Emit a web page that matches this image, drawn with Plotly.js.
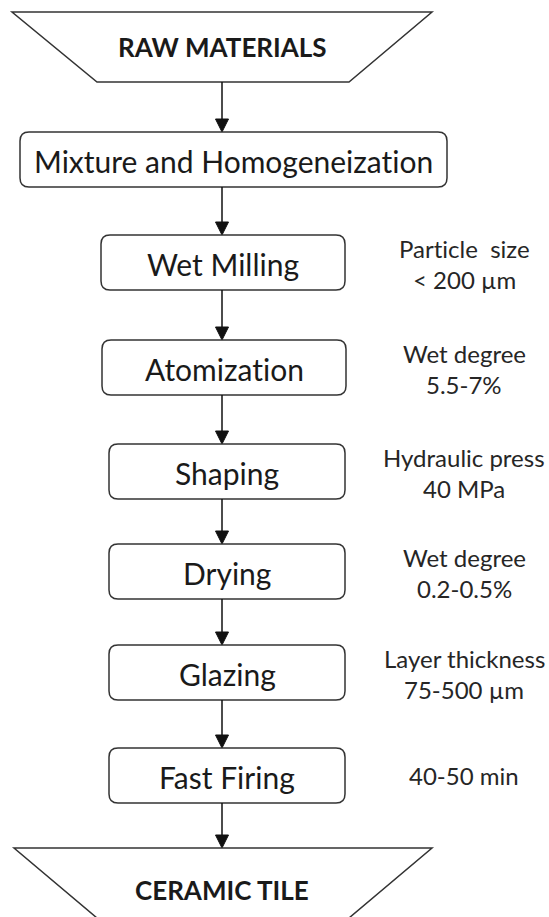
<!DOCTYPE html>
<html>
<head>
<meta charset="utf-8">
<script src="https://cdn.plot.ly/plotly-3.0.1.min.js"></script>
<style>
html,body{margin:0;padding:0;background:#fff;}
#chart{width:549px;height:917px;}
text{font-variant-ligatures:none !important;font-feature-settings:"liga" 0,"clig" 0 !important;}
</style>
</head>
<body>
<div id="chart"></div>
<script>
// ---- data ----
const startLabel = "RAW MATERIALS";
const endLabel = "CERAMIC TILE";
const steps = ["Mixture and Homogeneization", "Wet Milling", "Atomization", "Shaping", "Drying", "Glazing", "Fast Firing"];
const noteLine1 = ["", "Particle\u00a0 size", "Wet degree", "Hydraulic press", "Wet degree", "Layer thickness", "40-50 min"];
const noteLine2 = ["", "< 200 \u00b5m", "5.5-7%", "40 MPa", "0.2-0.5%", "75-500 \u00b5m", ""];

// ---- layout (pixel space) ----
const W = 549, H = 917;
const CX = 222;
const rowTop = [132, 235, 340, 444, 544, 645, 748];
const boxH = 55;
const boxX = [[20, 447], [101, 345], [102, 346], [109, 345], [109, 345], [109, 345], [109, 345]];
const noteX = 464;
const topTrap = {y0: 12, y1: 82, top: [12, 432], bot: [97, 349]};
const botTrap = {y0: 848, y1: 918, top: [14, 432], bot: [97, 349]};
const R = 9;
const FONT = "Lato, 'Open Sans', sans-serif";
const lineCol = "#333333";
const textCol = "#1a1a1a";
const noteCol = "#262626";

const shapes = [];
const annotations = [];

function rrect(x0, y0, x1, y1, r) {
  return `M${x0 + r},${y0} L${x1 - r},${y0} Q${x1},${y0} ${x1},${y0 + r} L${x1},${y1 - r} Q${x1},${y1} ${x1 - r},${y1} L${x0 + r},${y1} Q${x0},${y1} ${x0},${y1 - r} L${x0},${y0 + r} Q${x0},${y0} ${x0 + r},${y0} Z`;
}
function trap(t) {
  return `M${t.top[0]},${t.y0} L${t.top[1]},${t.y0} L${t.bot[1]},${t.y1} L${t.bot[0]},${t.y1} Z`;
}
function arrow(y0, y1) {
  const hw = 6.5, hh = 13;
  shapes.push({type: "line", xref: "x", yref: "y", x0: CX, x1: CX, y0: y0, y1: y1 - hh + 1,
    line: {color: "#111", width: 1.5}});
  shapes.push({type: "path", xref: "x", yref: "y",
    path: `M${CX - hw},${y1 - hh} L${CX + hw},${y1 - hh} L${CX},${y1} Z`,
    fillcolor: "#111", line: {color: "#111", width: 1}});
}

// start trapezoid
shapes.push({type: "path", xref: "x", yref: "y", path: trap(topTrap), line: {color: lineCol, width: 1.5}, fillcolor: "rgba(0,0,0,0)"});
annotations.push({x: CX, y: 47, xref: "x", yref: "y", text: "<b>" + startLabel + "</b>", showarrow: false,
  xanchor: "center", yanchor: "middle", font: {family: FONT, size: 26, color: textCol}});

let prevBottom = topTrap.y1;
steps.forEach((s, i) => {
  const y0 = rowTop[i], y1 = rowTop[i] + boxH;
  arrow(prevBottom, y0);
  shapes.push({type: "path", xref: "x", yref: "y", path: rrect(boxX[i][0], y0, boxX[i][1], y1, R),
    line: {color: lineCol, width: 1.5}, fillcolor: "rgba(0,0,0,0)"});
  const cy = (y0 + y1) / 2;
  annotations.push({x: (boxX[i][0] + boxX[i][1]) / 2, y: cy + 1, xref: "x", yref: "y", text: s, showarrow: false,
    xanchor: "center", yanchor: "middle", font: {family: FONT, size: 30, color: textCol}});
  if (noteLine1[i] && noteLine2[i]) {
    annotations.push({x: noteX, y: cy - 14, xref: "x", yref: "y", text: noteLine1[i], showarrow: false,
      xanchor: "center", yanchor: "middle", font: {family: FONT, size: 24, color: noteCol}});
    annotations.push({x: noteX, y: cy + 17, xref: "x", yref: "y", text: noteLine2[i], showarrow: false,
      xanchor: "center", yanchor: "middle", font: {family: FONT, size: 24, color: noteCol}});
  } else if (noteLine1[i]) {
    annotations.push({x: noteX, y: cy, xref: "x", yref: "y", text: noteLine1[i], showarrow: false,
      xanchor: "center", yanchor: "middle", font: {family: FONT, size: 24, color: noteCol}});
  }
  prevBottom = y1;
});

arrow(prevBottom, botTrap.y0);
shapes.push({type: "path", xref: "x", yref: "y", path: trap(botTrap), line: {color: lineCol, width: 1.5}, fillcolor: "rgba(0,0,0,0)"});
annotations.push({x: CX, y: 890, xref: "x", yref: "y", text: "<b>" + endLabel + "</b>", showarrow: false,
  xanchor: "center", yanchor: "middle", font: {family: FONT, size: 26, color: textCol}});

const layout = {
  width: W, height: H,
  margin: {l: 0, r: 0, t: 0, b: 0},
  paper_bgcolor: "#fff", plot_bgcolor: "#fff",
  showlegend: false,
  xaxis: {range: [0, W], visible: false, fixedrange: true},
  yaxis: {range: [H, 0], visible: false, fixedrange: true},
  shapes: shapes,
  annotations: annotations
};
Plotly.newPlot("chart", [], layout, {staticPlot: true, displayModeBar: false});
</script>
</body>
</html>
